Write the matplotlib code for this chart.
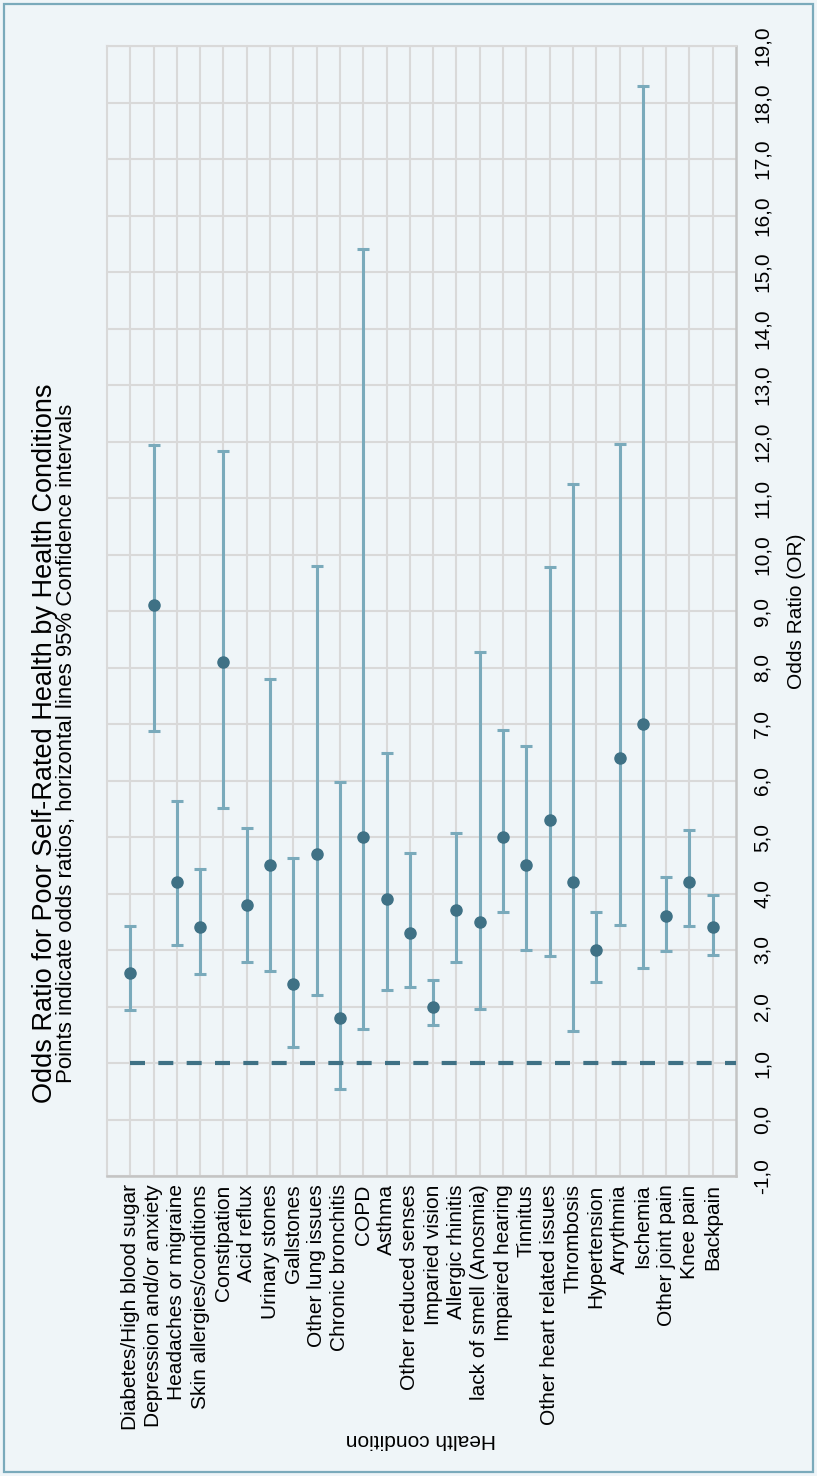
import matplotlib
matplotlib.use("Agg")
import matplotlib.pyplot as plt
from matplotlib.patches import Rectangle
from matplotlib.ticker import FuncFormatter, MultipleLocator

conditions = [
    "Diabetes/High blood sugar", "Depression and/or anxiety", "Headaches or migraine",
    "Skin allergies/conditions", "Constipation", "Acid reflux", "Urinary stones",
    "Gallstones", "Other lung issues", "Chronic bronchitis", "COPD", "Asthma",
    "Other reduced senses", "Imparied vision", "Allergic rhinitis",
    "lack of smell (Anosmia)", "Impaired hearing", "Tinnitus",
    "Other heart related issues", "Thrombosis", "Hypertension", "Arrythmia",
    "Ischemia", "Other joint pain", "Knee pain", "Backpain",
]
odds_ratio = [2.6, 9.1, 4.2, 3.4, 8.1, 3.8, 4.5, 2.4, 4.7, 1.8, 5.0, 3.9, 3.3,
              2.0, 3.7, 3.5, 5.0, 4.5, 5.3, 4.2, 3.0, 6.4, 7.0, 3.6, 4.2, 3.4]
ci_low = [1.93, 6.88, 3.08, 2.58, 5.51, 2.78, 2.63, 1.28, 2.20, 0.54, 1.61, 2.30, 2.35,
          1.67, 2.78, 1.96, 3.67, 3.00, 2.90, 1.56, 2.44, 3.45, 2.68, 2.99, 3.42, 2.92]
ci_high = [3.42, 11.94, 5.64, 4.43, 11.83, 5.16, 7.80, 4.62, 9.79, 5.97, 15.4, 6.49, 4.71,
           2.47, 5.07, 8.28, 6.90, 6.61, 9.77, 11.25, 3.68, 11.96, 18.3, 4.29, 5.12, 3.97]
reference_or = 1.0

BG = "#eff5f8"
POINT = "#3f7185"
BAR = "#7aaabb"
GRID = "#d9d9d9"

plt.rcParams["font.family"] = ["Liberation Sans", "DejaVu Sans"]

fig = plt.figure(figsize=(8.17, 14.76), dpi=100, facecolor=BG)
ax = fig.add_axes([107 / 817, 1 - 1176 / 1476, (736 - 107) / 817, (1176 - 46) / 1476])
ax.set_facecolor(BG)

x = list(range(len(conditions)))
err_lo = [o - l for o, l in zip(odds_ratio, ci_low)]
err_hi = [h - o for o, h in zip(odds_ratio, ci_high)]

ax.errorbar(x, odds_ratio, yerr=[err_lo, err_hi], fmt="none", ecolor=BAR,
            elinewidth=2.2, capsize=4.5, capthick=2.2, zorder=3)
ax.hlines(reference_or, 0, len(conditions), colors=POINT, linewidth=3,
          linestyles=(0, (3.6, 3.2)), zorder=4)
ax.plot(x, odds_ratio, "o", color=POINT, markersize=8, zorder=5)

ax.set_xlim(-1, len(conditions))
ax.set_ylim(-1, 19)
ax.set_xticks(x)
ax.set_xticklabels(conditions, rotation=90, fontsize=15)
ax.yaxis.set_major_locator(MultipleLocator(1))
ax.yaxis.set_major_formatter(FuncFormatter(lambda v, p: f"{v:.1f}".replace(".", ",")))
ax.yaxis.tick_right()
ax.tick_params(axis="x", length=0, pad=6)
ax.tick_params(axis="y", length=0, pad=12, labelsize=15)
for lbl in ax.get_yticklabels():
    lbl.set_rotation(90)
    lbl.set_va("center")

ax.grid(True, color=GRID, linewidth=1.5, zorder=0)
ax.set_axisbelow(True)
for side in ("top", "left"):
    ax.spines[side].set_color(GRID)
    ax.spines[side].set_linewidth(1.5)
for side in ("right", "bottom"):
    ax.spines[side].set_color("#c4c4c4")
    ax.spines[side].set_linewidth(1.8)

# titles and axis labels, all turned on their side
fig.text(45 / 817, 1 - 743 / 1476,
         "Odds Ratio for Poor Self-Rated Health by Health Conditions",
         rotation=90, ha="center", va="center", fontsize=19.5)
fig.text(67 / 817, 1 - 743 / 1476,
         "Points indicate odds ratios, horizontal lines 95% Confidence intervals",
         rotation=90, ha="center", va="center", fontsize=16)
fig.text(796 / 817, 1 - 611 / 1476, "Odds Ratio (OR)",
         rotation=90, ha="center", va="center", fontsize=15)
fig.text(421 / 817, 1 - 1440 / 1476, "Health condition",
         rotation=180, ha="center", va="center", fontsize=15)

fig.patches.append(Rectangle((4 / 817, 4 / 1476), 809 / 817, 1468 / 1476,
                             transform=fig.transFigure, fill=False,
                             edgecolor="#7aaabb", linewidth=1.6))

fig.savefig("out.png", dpi=100, facecolor=BG)
